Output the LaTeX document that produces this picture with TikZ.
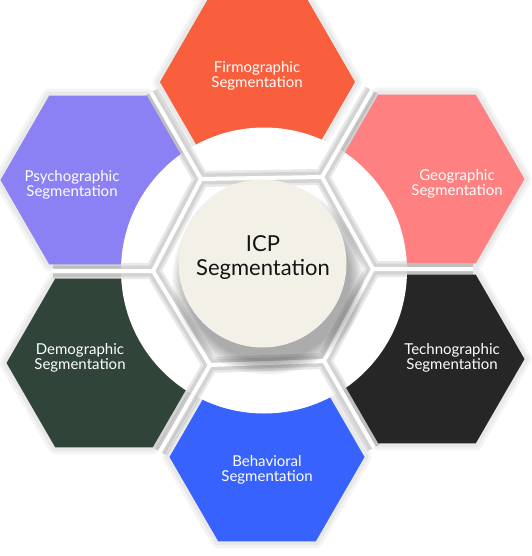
\documentclass[tikz,border=0pt]{standalone}
\usepackage{fontspec}
\setmainfont{Lato}
\definecolor{colF}{HTML}{F95E3D}
\definecolor{colG}{HTML}{FF8080}
\definecolor{colT}{HTML}{262626}
\definecolor{colB}{HTML}{3862FD}
\definecolor{colD}{HTML}{31443A}
\definecolor{colP}{HTML}{8B81F4}
\definecolor{colC}{HTML}{F2F0E7}
\newcommand\hexat[1]{([shift={(-97.5,0)}]#1) -- ++(48.75,-84.4) -- ++(97.5,0) -- ++(48.75,84.4) -- ++(-48.75,84.4) -- ++(-97.5,0) -- cycle}
\newcommand\gridpath{(jTL) -- (jTR) -- (jR) -- (jBR) -- (jBL) -- (jL) -- cycle
  (jTL) -- ++(-50,-86.6) (jTR) -- ++(50,-86.6) (jR) -- ++(100,0)
  (jBR) -- ++(50,86.6) (jBL) -- ++(-50,86.6) (jL) -- ++(-100,0)}
\begin{document}
\begin{tikzpicture}[x=1pt,y=-1pt,
  lbl/.style={text=white, font=\fontsize{15}{15}\selectfont, align=center, inner sep=0pt},
  tubegrayA/.style={draw=black, line width=16pt, opacity=0.09, line join=round},
  tubegrayB/.style={draw=black, line width=11pt, opacity=0.09, line join=round},
  tubecore/.style={draw=white, line width=4pt, line join=round},
  glowline/.style={draw=black, line width=#1, opacity=0.045, line join=round}]
\useasboundingbox (0,0) rectangle (531,556);
\fill[white] (0,0) rectangle (531,556);
% hexagon centres
\coordinate (cF) at (257.5,82);
\coordinate (cP) at (98,180);
\coordinate (cG) at (427,179);
\coordinate (cD) at (104,363);
\coordinate (cT) at (427,359);
\coordinate (cB) at (267,457);
% junctions of the frame
\coordinate (jTL) at (201,179);
\coordinate (jTR) at (322,177);
\coordinate (jR) at (373,269);
\coordinate (jBR) at (324,361);
\coordinate (jBL) at (210,365);
\coordinate (jL) at (153,271);
% soft glow around hexagons
\foreach \h in {cF,cP,cG,cD,cT,cB}{
  \path[glowline=14pt] \hexat{\h};
  \path[glowline=8pt] \hexat{\h};
}
% frame tubes
\path[tubegrayA] \gridpath;
\path[tubegrayB] \gridpath;
\path[tubecore] \gridpath;
% hexagons
\fill[colF] \hexat{cF};
\fill[colP] \hexat{cP};
\fill[colG] \hexat{cG};
\fill[colD] \hexat{cD};
\fill[colT] \hexat{cT};
\fill[colB] \hexat{cB};
% white ring
\fill[white] (264,270.5) circle (143pt);
\begin{scope}
  \clip (264,270.5) circle (143pt);
  \path[tubegrayA] \gridpath;
  \path[tubegrayB] \gridpath;
  \path[tubecore] \gridpath;
\end{scope}
% centre shadow
\foreach \r in {96,95,...,82}{
  \fill[black, opacity=0.025] (268,279) circle (\r pt);
}
\node[circle, fill=colC, minimum size=168pt, inner sep=0pt] (centre) at (262.5,263.5) {};
\node[font=\fontsize{22}{24}\selectfont, align=center, text=black!92, inner sep=0pt] (ticp) at (263,258) {ICP\\Segmentation};
% labels
\node[lbl] (tF) at (257,75.5) {Firmographic\\Segmentation};
\node[lbl] (tP) at (72,185) {Psychographic\\Segmentation};
\node[lbl] (tG) at (457,184) {Geographic\\Segmentation};
\node[lbl] (tD) at (80,358) {Demographic\\Segmentation};
\node[lbl] (tT) at (452,358) {Technographic\\Segmentation};
\node[lbl] (tB) at (267,470) {Behavioral\\Segmentation};
\end{tikzpicture}
\end{document}
